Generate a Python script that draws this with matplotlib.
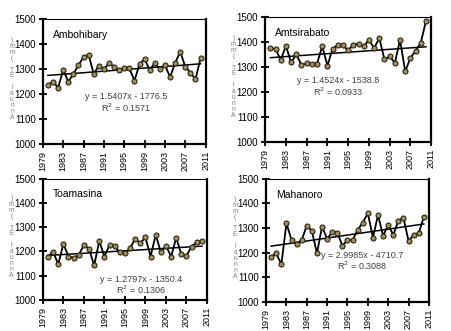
#!/usr/bin/env python3
"""Annual ET trends at four stations, 2x2 panel chart."""

import matplotlib
matplotlib.use("Agg")
import matplotlib.pyplot as plt
import numpy as np

FONT = "Liberation Sans"
MARKER_FACE = "#a08f5c"
MARKER_EDGE = "#2b2515"
EQ_COLOR = "#404040"
YLABEL_COLOR = "#7f7f7f"

years = list(range(1980, 2011))

ambohibary = [1236, 1249, 1225, 1296, 1249, 1280, 1315, 1347, 1356, 1280,
              1313, 1299, 1323, 1309, 1296, 1305, 1303, 1253, 1319, 1339,
              1296, 1323, 1299, 1316, 1267, 1323, 1369, 1309, 1285, 1259,
              1343]
amtsirabato = [1374, 1372, 1328, 1384, 1318, 1350, 1308, 1314, 1312, 1313,
               1383, 1305, 1372, 1388, 1386, 1366, 1389, 1392, 1382, 1408,
               1375, 1415, 1330, 1342, 1316, 1408, 1282, 1336, 1364, 1396,
               1484]
toamasina = [1179, 1199, 1147, 1231, 1179, 1174, 1185, 1227, 1211, 1142,
             1243, 1179, 1227, 1223, 1196, 1192, 1213, 1252, 1234, 1258,
             1179, 1269, 1196, 1223, 1179, 1256, 1188, 1183, 1220, 1238,
             1241]
mahanoro = [1183, 1197, 1152, 1319, 1251, 1234, 1251, 1310, 1288, 1197,
            1306, 1255, 1285, 1281, 1228, 1251, 1251, 1292, 1322, 1360,
            1261, 1353, 1268, 1313, 1272, 1330, 1342, 1247, 1272, 1279,
            1345]

stations = ["Ambohibary", "Amtsirabato", "Toamasina", "Mahanoro"]
series = [ambohibary, amtsirabato, toamasina, mahanoro]
slopes = [1.5407, 1.4524, 1.2797, 2.9985]
intercepts = [-1776.5, -1538.8, -1350.4, -4710.7]
r2_values = ["0.1571", "0.0933", "0.1306", "0.3088"]

x_ticks = list(range(1979, 2012, 4))
y_ticks = list(range(1000, 1501, 100))

# axes boxes in figure fractions: left, bottom, width, height
boxes = [
    (0.095, 0.565, 0.361, 0.378),
    (0.588, 0.571, 0.368, 0.378),
    (0.095, 0.094, 0.364, 0.366),
    (0.590, 0.088, 0.361, 0.372),
]
# equation positions in axes fractions
eq_pos = [(0.51, 0.38), (0.44, 0.49), (0.60, 0.17), (0.59, 0.38)]

fig = plt.figure(figsize=(4.51, 3.31), dpi=100)
fig.patch.set_facecolor("white")

for i, name in enumerate(stations):
    ax = fig.add_axes(boxes[i])
    vals = series[i]
    ax.plot(years, vals, color="black", lw=1.3, marker="o", ms=3.6,
            mfc=MARKER_FACE, mec=MARKER_EDGE, mew=0.8, zorder=3)
    tx = np.array([years[0], years[-1]])
    ax.plot(tx, slopes[i] * tx + intercepts[i], color="black", lw=1.1, zorder=2)

    ax.set_xlim(1979, 2011)
    ax.set_ylim(1000, 1500)
    ax.set_xticks(x_ticks)
    ax.set_xticklabels([str(t) for t in x_ticks], rotation=90, fontsize=6.5,
                       fontfamily=FONT)
    ax.set_yticks(y_ticks)
    ax.set_yticklabels([str(t) for t in y_ticks], fontsize=7, fontfamily=FONT)
    ax.tick_params(direction="inout", length=6, width=1.3, pad=2)
    for side in ["left", "bottom", "right"]:
        ax.spines[side].set_linewidth(1.6)
    ax.spines["top"].set_linewidth(0.8)

    ax.text(0.06, 0.87, name, transform=ax.transAxes, fontsize=7.5,
            fontfamily=FONT, ha="left", va="center")
    ex, ey = eq_pos[i]
    sign = "-" if intercepts[i] < 0 else "+"
    ax.text(ex, ey, f"y = {slopes[i]}x {sign} {abs(intercepts[i])}",
            transform=ax.transAxes, fontsize=6.5, fontfamily=FONT,
            color=EQ_COLOR, ha="center", va="center")
    ax.text(ex, ey - 0.09, f"R$^2$ = {r2_values[i]}", transform=ax.transAxes,
            fontsize=6.5, fontfamily=FONT, color=EQ_COLOR, ha="center",
            va="center")

    # stacked y label as in the original
    label = "\n".join(reversed("Annual ET (mm)"))
    ax.text(-0.19, 0.52, label, transform=ax.transAxes, fontsize=4.8,
            fontfamily=FONT, color=YLABEL_COLOR, ha="center", va="center",
            linespacing=0.78)

fig.savefig("out.png", dpi=100, facecolor="white")
plt.close(fig)
